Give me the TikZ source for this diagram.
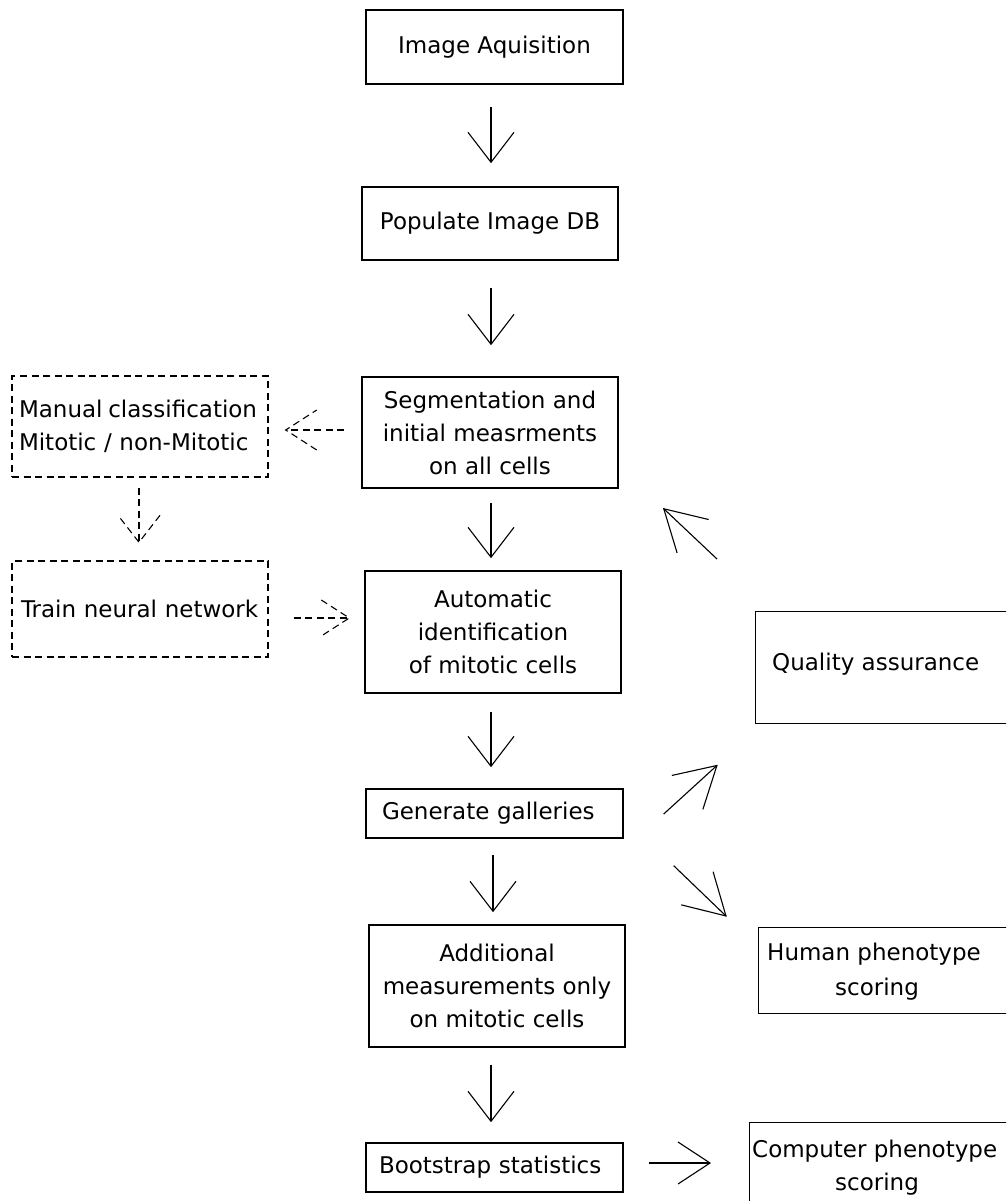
\documentclass[tikz,border=0pt]{standalone}
\usepackage{fontspec}
\setmainfont{DejaVu Sans}
\usetikzlibrary{decorations.markings}
\begin{document}
\begin{tikzpicture}[x=1pt,y=-1pt,
  every node/.style={font=\fontsize{23}{33}\selectfont},
  box/.style={draw, line width=1.4pt, inner sep=0pt, align=center},
  dpat/.style={dash pattern=on 7pt off 4.5pt},
  dbox/.style={box, dpat},
  conn/.style={line width=1.1pt},
  dconn/.style={conn, dpat},
  barb/.style n args={3}{decoration={markings,
      mark=at position 0.99999 with {\draw[line width=1.1pt,#3] (-#1pt,#2pt) -- (0pt,0pt) -- (-#1pt,-#2pt);}},
    postaction={decorate}},
]
\useasboundingbox (0,0) rectangle (1006,1201);
\clip (0,0) rectangle (1006,1201);

% main column
\node[box, minimum width=257pt, minimum height=74pt] (b1) at (494.5,47) {Image Aquisition};
\node[box, minimum width=256pt, minimum height=73pt] (b2) at (490,223.5) {Populate Image DB};
\node[box, minimum width=256pt, minimum height=111pt] (b3) at (490,432.5) {Segmentation and\\initial measrments\\on all cells};
\node[box, minimum width=256pt, minimum height=122pt] (b4) at (493,632) {Automatic\\identification\\of mitotic cells};
\node[box, minimum height=49pt, text width=225pt, inner xsep=16pt, align=left] (gal) at (494.5,813.5) {Generate galleries};
\node[box, minimum width=256pt, minimum height=122pt] (add) at (497,986) {Additional\\measurements only\\on mitotic cells};
\node[box, minimum height=49pt, text width=231pt, inner xsep=13pt, align=left] (boot) at (494.5,1167.5) {Bootstrap statistics};

% left dashed boxes
\node[dbox, minimum height=101pt, text width=242pt, inner xsep=7pt, align=left] (man) at (140,426.5) {\mbox{Manual\hspace{-2pt} classification}\\\mbox{Mitotic / non-Mitotic}};
\node[dbox, minimum height=96pt, text width=238pt, inner xsep=9pt, align=left] (train) at (140,609) {Train neural network};

% right boxes (running off the page)
\node[box, minimum width=320pt, minimum height=112pt, anchor=north west] (qa) at (755,611) {};
\node[anchor=base west, inner sep=0pt] (qat) at (772,670) {Quality assurance};
\node[box, minimum width=320pt, minimum height=86pt, anchor=north west] (hum) at (758,927) {};
\node[anchor=base west, inner sep=0pt] (humt1) at (767,960) {Human phenotype};
\node[anchor=base, inner sep=0pt] (humt2) at (877,995) {scoring};
\node[box, minimum width=320pt, minimum height=120pt, anchor=north west] (comp) at (749,1122) {};
\node[anchor=base west, inner sep=0pt] (compt1) at (752,1157) {Computer phenotype};
\node[anchor=base, inner sep=0pt] (compt2) at (877,1190) {scoring};

% vertical arrows
\draw[conn, barb={30}{23}{solid}] ([shift={(-3.5,22)}]b1.south) -- ([shift={(1,-24)}]b2.north);
\draw[conn, barb={30}{23}{solid}] ([shift={(1,27)}]b2.south) -- ([shift={(1,-32)}]b3.north);
\draw[conn, barb={30}{23}{solid}] ([shift={(1,14)}]b3.south) -- ([shift={(-2,-13)}]b4.north);
\draw[conn, barb={30}{23}{solid}] ([shift={(-2,18)}]b4.south) -- ([shift={(-3.5,-22)}]gal.north);
\draw[conn, barb={30}{23}{solid}] ([shift={(-1.5,16)}]gal.south) -- ([shift={(-4,-13)}]add.north);
\draw[conn, barb={30}{23}{solid}] ([shift={(-6,17)}]add.south) -- ([shift={(-3.5,-21)}]boot.north);

% dashed arrows
\draw[dconn, barb={31}{20}{dpat}] ([shift={(-17,-2.5)}]b3.west) -- ([shift={(17,3.5)}]man.east);
\draw[dconn, barb={27}{21}{dpat}] ([shift={(-1,10)}]man.south) -- ([shift={(-1,-18)}]train.north);
\draw[dconn, barb={28}{18}{dpat}] ([shift={(25,9)}]train.east) -- ([shift={(-15,-14)}]b4.west);

% diagonal and right arrows
\draw[conn, barb={40}{23}{solid}] ([shift={(-38,-52)}]qa.north west) -- ([shift={(45,20)}]b3.south east);
\draw[conn, barb={40}{23}{solid}] ([shift={(40,0.5)}]gal.east) -- ([shift={(-38,41)}]qa.south west);
\draw[conn, barb={40}{23}{solid}] ([shift={(50,27)}]gal.south east) -- ([shift={(-32,-11)}]hum.north west);
\draw[conn, barb={32}{21}{solid}] ([shift={(25,-4.5)}]boot.east) -- ([shift={(-39,41)}]comp.north west);
\end{tikzpicture}
\end{document}
